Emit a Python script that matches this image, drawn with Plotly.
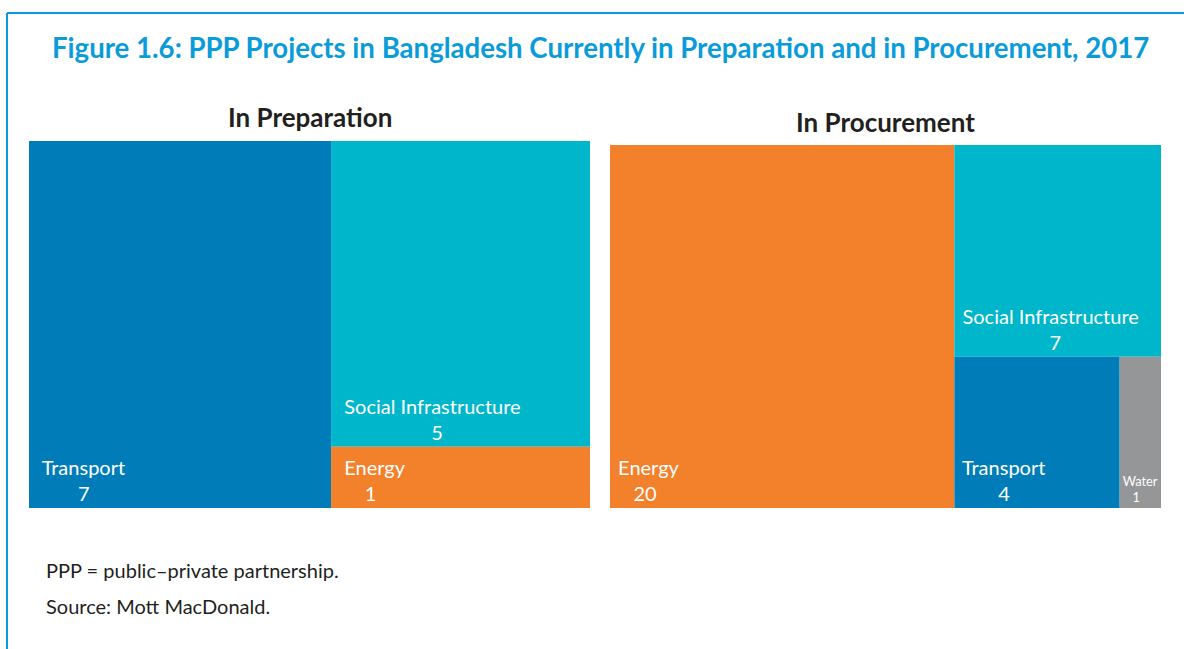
import plotly.graph_objects as go

W, H = 1184, 649

# Data
prep_labels = ["Transport", "Social Infrastructure", "Energy"]
prep_values = [7, 5, 1]
proc_labels = ["Energy", "Social Infrastructure", "Transport", "Water"]
proc_values = [20, 7, 4, 1]

sector_colors = {
    "Transport": "#007DB8",
    "Social Infrastructure": "#00B6CB",
    "Energy": "#F3802A",
    "Water": "#959698",
}

title_text = "Figure 1.6: PPP Projects in Bangladesh Currently in Preparation and in Procurement, 2017"
panel_titles = ["In Preparation", "In Procurement"]
notes = ["PPP = public\u2013private partnership.", "Source: Mott MacDonald."]

FONT = "Lato"
NB = "\u00a0"


def px(x):
    return x / W


def py(y):
    return 1 - y / H


def centered_text(label, value, fs, lead):
    # pad the value with non-breaking spaces so it sits centred under the label
    label_w = len(label) * 0.43 * fs
    num_w = len(str(value)) * 0.58 * fs
    n = max(0, round((label_w - num_w) / 2 / (0.25 * fs)))
    return f"{NB * lead}{label}<br>{NB * (lead + n)}{value}"


def make_treemap(labels, values, domain, sizes, leads):
    texts = [centered_text(l, v, s, d) for l, v, s, d in zip(labels, values, sizes, leads)]
    return go.Treemap(
        labels=labels,
        parents=[""] * len(labels),
        values=values,
        text=texts,
        textinfo="text",
        textposition="bottom left",
        textfont=dict(family=FONT, color="white", size=sizes),
        marker=dict(colors=[sector_colors[l] for l in labels],
                    line=dict(width=0), pad=dict(t=0, l=0, r=0, b=0)),
        tiling=dict(packing="squarify", pad=0),
        pathbar=dict(visible=False),
        sort=True,
        domain=domain,
        hoverinfo="label+value",
    )


fig = go.Figure()
fig.add_trace(make_treemap(prep_labels, prep_values,
                           dict(x=[px(29), px(590)], y=[py(508), py(141)]),
                           [20, 20, 20], [2, 2, 2]))
fig.add_trace(make_treemap(proc_labels, proc_values,
                           dict(x=[px(610), px(1161)], y=[py(508), py(145)]),
                           [20, 20, 20, 15], [1, 1, 1, 0]))

ann = [
    dict(x=px(600), y=py(48), text=f"<b>{title_text}</b>", showarrow=False,
         xanchor="center", yanchor="middle",
         font=dict(family=FONT, size=27.6, color="#0A9BD9")),
    dict(x=px(310), y=py(117), text=f"<b>{panel_titles[0]}</b>", showarrow=False,
         xanchor="center", yanchor="middle",
         font=dict(family=FONT, size=26, color="#231F20")),
    dict(x=px(885), y=py(122), text=f"<b>{panel_titles[1]}</b>", showarrow=False,
         xanchor="center", yanchor="middle",
         font=dict(family=FONT, size=26, color="#231F20")),
    dict(x=px(44), y=py(570), text=notes[0], showarrow=False,
         xanchor="left", yanchor="middle",
         font=dict(family=FONT, size=20, color="#231F20")),
    dict(x=px(44), y=py(606), text=notes[1], showarrow=False,
         xanchor="left", yanchor="middle",
         font=dict(family=FONT, size=20, color="#231F20")),
]

shapes = [
    dict(type="line", xref="paper", yref="paper", x0=px(7), x1=px(7),
         y0=py(13), y1=0, line=dict(color="#0A9BD9", width=2)),
    dict(type="line", xref="paper", yref="paper", x0=px(7), x1=1,
         y0=py(13), y1=py(13), line=dict(color="#0A9BD9", width=2)),
]

fig.update_layout(
    width=W, height=H,
    margin=dict(l=0, r=0, t=0, b=0),
    paper_bgcolor="white",
    plot_bgcolor="white",
    annotations=ann,
    shapes=shapes,
    showlegend=False,
)

fig.write_html("out.html")
